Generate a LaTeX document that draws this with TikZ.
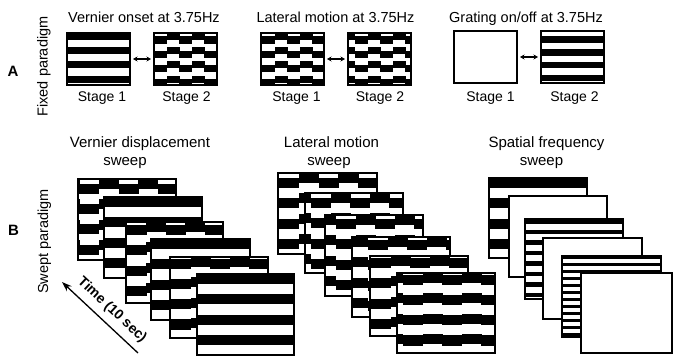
\documentclass[tikz,border=0pt]{standalone}
\usepackage{fontspec}
\setmainfont{Liberation Sans}
\usetikzlibrary{arrows.meta}
\pgfkeys{/gr/.is family,
  /gr/period/.store in=\grP, /gr/start/.store in=\grS,
  /gr/shift/.store in=\grV, /gr/cphase/.store in=\grC,
  /gr/black/.store in=\grB}
% \grating[options]{name}{x}{y}{w}{h}
\newcommand\grating[6][]{%
  \pgfkeys{/gr/.cd, period=0, start=0, shift=0, cphase=0, black=0.5, #1}%
  \node[gframe, minimum width=#5pt, minimum height=#6pt, anchor=north west] (#2) at (#3,#4) {};%
  \ifdim\grP pt>0pt
    \begin{scope}
      \clip (#2.north west) rectangle (#2.south east);
      \pgfmathtruncatemacro\grN{#6/\grP+1}%
      \foreach \i in {0,...,\grN}{%
        \foreach \j in {0,...,6}{%
          \pgfmathsetmacro\grD{mod(\j,2)==1 ? \grV : 0}%
          \fill ({#3+\grC+(\j-1)*#5/5},{#4+\grS+\i*\grP+\grD}) rectangle ++({#5/5+0.4},{\grP*\grB});
        }}
    \end{scope}
  \fi
  \draw[gline] (#2.north west) rectangle (#2.south east);
}
\tikzset{
  gframe/.style={fill=white, draw=none, inner sep=0pt, outer sep=0pt},
  gline/.style={line width=1.2pt},
  swap/.style={{Stealth[length=4.5pt,width=5pt]}-{Stealth[length=4.5pt,width=5pt]}, line width=1.1pt, shorten >=3pt, shorten <=3pt},
  titleA/.style={font=\fontsize{14.5}{17}\selectfont, anchor=base, inner sep=0pt},
  stagelbl/.style={font=\fontsize{14}{17}\selectfont, anchor=base, inner sep=0pt},
  titleB/.style={font=\fontsize{15}{18}\selectfont, anchor=base, inner sep=0pt},
  sidelbl/.style={font=\fontsize{14.5}{17}\selectfont, rotate=90, anchor=base, inner sep=0pt},
  panel/.style={font=\fontsize{15}{18}\selectfont\bfseries, anchor=base, inner sep=0pt},
  timearrow/.style={-{Stealth[length=10pt,width=7pt]}, line width=1.3pt},
  timelbl/.style={font=\fontsize{14}{16}\selectfont\bfseries, rotate=-43, inner sep=0pt},
}
\begin{document}
\begin{tikzpicture}[x=1pt,y=-1pt]
\useasboundingbox (0,0) rectangle (674,358);

% ---------- Panel A ----------
\node[panel] (lA) at (13,76.5) {A};
\node[sidelbl] (fixed) at (47.5,66.5) {Fixed paradigm};

\node[titleA] (tv) at (144,23) {Vernier onset at 3.75Hz};
\node[titleA] (tl) at (335.5,23) {Lateral motion at 3.75Hz};
\node[titleA] (tg) at (526,23) {Grating on/off at 3.75Hz};

\grating[period=14.2]{va1}{67}{33}{63}{52}
\grating[period=14.2, shift=3.5]{va2}{154}{33}{63}{52}
\grating[period=14.2, shift=3.5, cphase=1]{la1}{261}{33}{63}{52}
\grating[period=14.2, shift=3.5, cphase=7]{la2}{348}{33}{63}{52}
\grating{ga1}{454}{31}{63}{52}
\grating[period=12.7, start=5.5]{ga2}{541}{31}{63}{52}

\draw[swap] (va1) -- (va2);
\draw[swap] (la1) -- (la2);
\draw[swap] (ga1) -- (ga2);

\node[stagelbl] (sv1) at (102,101.5) {Stage 1};
\node[stagelbl] (sv2) at (186.5,101.5) {Stage 2};
\node[stagelbl] (sl1) at (296.5,101.5) {Stage 1};
\node[stagelbl] (sl2) at (380,101.5) {Stage 2};
\node[stagelbl] (sg1) at (490.5,101.5) {Stage 1};
\node[stagelbl] (sg2) at (574.5,101.5) {Stage 2};

% ---------- Panel B ----------
\node[panel] (lB) at (13.5,235) {B};
\node[sidelbl] (swept) at (48,241.5) {Swept paradigm};

\node[titleB] (tb1a) at (140,148) {Vernier displacement};
\node[titleB] (tb1b) at (125,166) {sweep};
\node[titleB] (tb2a) at (331.5,148) {Lateral motion};
\node[titleB] (tb2b) at (329,166) {sweep};
\node[titleB] (tb3a) at (546.5,148) {Spatial frequency};
\node[titleB] (tb3b) at (541.5,166) {sweep};

% vernier displacement sweep
\grating[period=20.3, shift=4.7, cphase=1.3]{vb1}{78}{179}{98}{81}
\grating[period=20.3]{vb2}{104}{197}{98}{81}
\grating[period=20.3, shift=3, cphase=1]{vb3}{126}{222}{97}{81}
\grating[period=20.3]{vb4}{151}{239}{99}{81}
\grating[period=20.3, shift=1.5, cphase=1]{vb5}{170}{257}{98}{81}
\grating[period=20.3]{vb6}{197}{274}{97}{81}

% lateral motion sweep
\grating[period=20.3, shift=5, cphase=1]{lb1}{278}{173}{99}{81}
\grating[period=20.3, shift=5, cphase=6]{lb2}{305}{193}{98}{80}
\grating[period=20.3, shift=4, cphase=11]{lb3}{325}{215}{98}{81}
\grating[period=20.3, shift=3, cphase=16]{lb4}{352}{237}{98}{80}
\grating[period=20.3, shift=2, cphase=1]{lb5}{370}{256}{98}{80}
\grating[period=20.3, shift=1.5, cphase=6]{lb6}{397}{273}{98}{80}

% spatial frequency sweep
\grating[period=20.3]{sb1}{489}{178}{98}{80}
\grating{sb2}{509}{196}{98}{81}
\grating[period=10.5, black=0.45]{sb3}{525}{219}{98}{80}
\grating{sb4}{543}{238}{99}{81}
\grating[period=7, black=0.4]{sb5}{562}{256}{99}{81}
\grating{sb6}{581}{273}{91}{80}

% time arrow
\coordinate (ttail) at (138,353);
\coordinate (thead) at (62,282);
\draw[timearrow] (ttail) -- (thead);
\node[timelbl] (tlabel) at (112,310) {Time (10 sec)};
\end{tikzpicture}
\end{document}
